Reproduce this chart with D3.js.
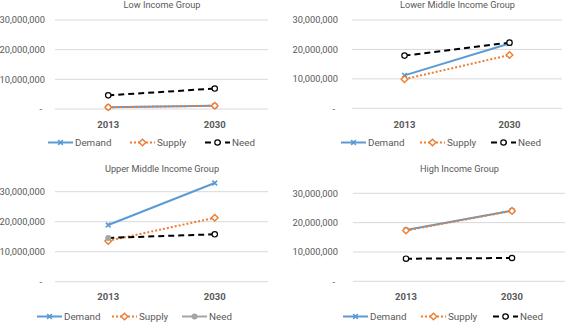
<!DOCTYPE html>
<html>
<head>
<meta charset="utf-8">
<script src="https://cdn.jsdelivr.net/npm/d3@7"></script>
<style>
  body { margin: 0; background: #fff; }
  svg { display: block; font-family: Roboto, "Liberation Sans", sans-serif; }
</style>
</head>
<body>
<div id="chart-area"></div>
<script>
// data
let years = ["2013", "2030"];
let groups = ["Low Income Group", "Lower Middle Income Group",
              "Upper Middle Income Group", "High Income Group"];
let demand = [[600000, 1100000], [11200000, 22000000], [18900000, 32900000], [17500000, 24100000]];
let supply = [[600000, 1100000], [9900000, 18100000], [13600000, 21300000], [17300000, 24000000]];
let need   = [[4600000, 6900000], [17900000, 22300000], [14600000, 15800000], [7700000, 7950000]];
let yTicks = [0, 10000000, 20000000, 30000000];

let blue = "#5b9bd5", orange = "#ed7d31", grey = "#a5a5a5", text = "#595959";

// panel boxes (left, right, y of zero, y of 30M, label x, title y, cat y, legend y)
let panels = [
  {l: 55,  r: 268, y0: 109,   y30: 20,    lx: 45,  ty: 8,   cy: 128, ly: 146,
   leg: [48, 130, 205]},
  {l: 352, r: 562, y0: 108.3, y30: 20,    lx: 338, ty: 8,   cy: 128, ly: 146,
   leg: [341, 420, 491]},
  {l: 55,  r: 268, y0: 281.7, y30: 191.7, lx: 45,  ty: 172, cy: 300, ly: 320,
   leg: [37, 112, 182], greyNeed: true},
  {l: 353, r: 565, y0: 281.3, y30: 193.3, lx: 338, ty: 172, cy: 300, ly: 320,
   leg: [343, 421, 493]}
];

let svg = d3.select("#chart-area").append("svg")
            .attr("width", 567).attr("height", 323);

let fmt = function(v){ return v === 0 ? "-" : d3.format(",")(v); };

function marker(g, kind, x, y, col){
    if (kind === "x") {
        g.append("path")
         .attr("d", d3.symbol().type(d3.symbolX).size(16)())
         .attr("transform", "translate(" + x + "," + y + ")")
         .attr("stroke", col).attr("stroke-width", 1.6).attr("fill", "none");
    } else if (kind === "diamond") {
        g.append("path")
         .attr("d", d3.symbol().type(d3.symbolDiamond2).size(28)())
         .attr("transform", "translate(" + x + "," + y + ")")
         .attr("stroke", col).attr("stroke-width", 1.4).attr("fill", "#fff");
    } else if (kind === "circle") {
        g.append("circle").attr("cx", x).attr("cy", y).attr("r", 2.7)
         .attr("stroke", col).attr("stroke-width", 1.2).attr("fill", "#fff");
    } else {
        g.append("circle").attr("cx", x).attr("cy", y).attr("r", 3)
         .attr("fill", col);
    }
}

panels.forEach(function(p, i){
    let g = svg.append("g");
    let x = d3.scalePoint().domain(years).range([p.l, p.r]).padding(0.5);
    let y = d3.scaleLinear().domain([0, 30000000]).range([p.y0, p.y30]);

    // gridlines
    g.selectAll(".grid").data(yTicks).enter().append("line")
     .attr("x1", p.l).attr("x2", p.r)
     .attr("y1", function(d){ return y(d); }).attr("y2", function(d){ return y(d); })
     .attr("stroke", "#d9d9d9").attr("stroke-width", 1);

    // y labels
    g.selectAll(".yl").data(yTicks).enter().append("text")
     .attr("x", function(d){ return d === 0 ? p.lx - 3 : p.lx; })
     .attr("y", function(d){ return y(d); })
     .attr("dy", "0.35em").attr("text-anchor", "end")
     .attr("font-size", 9.3).attr("fill", text)
     .text(fmt);

    // x labels
    g.selectAll(".xl").data(years).enter().append("text")
     .attr("x", function(d){ return x(d); }).attr("y", p.cy)
     .attr("text-anchor", "middle").attr("font-size", 9.5)
     .attr("font-weight", "bold").attr("fill", text)
     .text(function(d){ return d; });

    // title
    g.append("text").attr("x", (p.l + p.r) / 2 + 0.5).attr("y", p.ty)
     .attr("text-anchor", "middle").attr("font-size", 9.2).attr("fill", text)
     .text(groups[i]);

    let line = d3.line()
        .x(function(d, j){ return x(years[j]); })
        .y(function(d){ return y(d); });

    let series = [
        {v: demand[i], col: blue,   dash: null,  mk: "x"},
        {v: supply[i], col: orange, dash: "2,2", mk: "diamond"},
        {v: need[i],   col: "#000", dash: "6,4", mk: "circle"}
    ];
    series.forEach(function(s){
        g.append("path").datum(s.v).attr("d", line)
         .attr("fill", "none").attr("stroke", s.col).attr("stroke-width", 2)
         .attr("stroke-dasharray", s.dash);
        s.v.forEach(function(d, j){
            if (p.greyNeed && s.mk === "circle" && j === 0) {
                marker(g, "dot", x(years[j]), y(d), grey);
            } else {
                marker(g, s.mk, x(years[j]), y(d), s.col);
            }
        });
    });

    // legend
    let names = ["Demand", "Supply", "Need"];
    names.forEach(function(n, k){
        let s = series[k], lx = p.leg[k];
        let col = s.col, dash = s.dash, mk = s.mk;
        if (p.greyNeed && k === 2) { col = grey; dash = null; mk = "dot"; }
        g.append("line").attr("x1", lx).attr("x2", lx + 25)
         .attr("y1", p.ly - 3.5).attr("y2", p.ly - 3.5)
         .attr("stroke", col).attr("stroke-width", 2).attr("stroke-dasharray", dash);
        marker(g, mk, lx + 12.5, p.ly - 3.5, col);
        g.append("text").attr("x", lx + 27).attr("y", p.ly)
         .attr("font-size", 9.8).attr("fill", text).text(n);
    });
});
</script>
</body>
</html>
